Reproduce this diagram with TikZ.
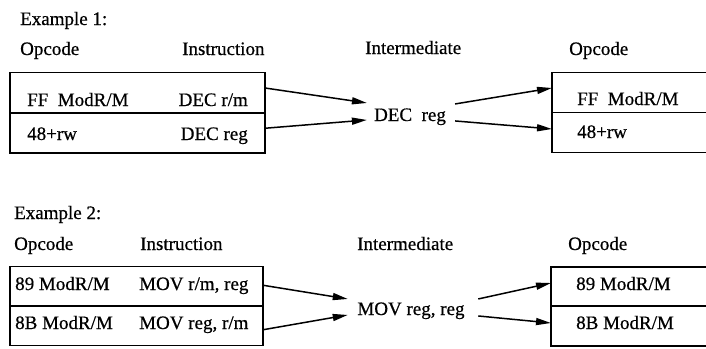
\documentclass[tikz,border=0pt]{standalone}
\usepackage{fontspec}
\setmainfont{Liberation Serif}[FakeBold=0.6]
\usetikzlibrary{arrows.meta}
\begin{document}
\begin{tikzpicture}[x=1pt,y=-1pt,
  lbl/.style={anchor=base west,inner sep=0pt,font=\fontsize{19}{22}\selectfont},
  lblr/.style={anchor=base east,inner sep=0pt,font=\fontsize{19}{22}\selectfont},
  midtxt/.style={anchor=base,inner sep=0pt,font=\fontsize{19}{22}\selectfont},
  cell/.style={draw,line width=1.5pt,inner sep=0pt,outer sep=0pt},
  link/.style={line width=1.5pt,-{Triangle[length=15pt,width=7pt]}}]
\useasboundingbox (0,0) rectangle (706,348);

% ---------- Example 1 ----------
\node[lbl] (ex1) at (20,25) {Example 1:};
\node[lbl] (op1) at (20,55) {Opcode};
\node[lbl] (ins1) at (182,55) {Instruction};
\node[lbl] (im1) at (365,54) {Intermediate};
\node[lbl] (op1r) at (569,55) {Opcode};

\node[cell,minimum width=255pt,minimum height=40.5pt] (l1a) at (137.5,92.5) {};
\node[cell,minimum width=255pt,minimum height=40pt] (l1b) at (137.5,132.75) {};
\node[lbl] (l1at) at (27,106) {FF\ \ ModR/M};
\node[lblr] (l1ai) at (248,106) {DEC r/m};
\node[lbl] (l1bt) at (27,140) {48+rw};
\node[lblr] (l1bi) at (248,140) {DEC reg};

\node[midtxt] (mid1) at (410,121) {DEC\ \ reg};

\node[cell,minimum width=160pt,minimum height=40pt] (r1a) at (632,92.5) {};
\node[cell,minimum width=160pt,minimum height=40pt] (r1b) at (632,132.5) {};
\node[lbl] (r1at) at (577,105) {FF\ \ ModR/M};
\node[lbl] (r1bt) at (577,138) {48+rw};

\draw[link] ([yshift=4.5pt]l1a.east) -- ([xshift=-7pt,yshift=13.8pt]mid1.west);
\draw[link] ([yshift=4.5pt]l1b.east) -- ([xshift=-7pt,yshift=-3.2pt]mid1.west);
\draw[link] ([xshift=9pt,yshift=12.8pt]mid1.east) -- ([yshift=4.5pt]r1a.west);
\draw[link] ([xshift=9pt,yshift=-4.2pt]mid1.east) -- ([yshift=3.5pt]r1b.west);

% ---------- Example 2 ----------
\node[lbl] (ex2) at (14,219) {Example 2:};
\node[lbl] (op2) at (14,250) {Opcode};
\node[lbl] (ins2) at (140,250) {Instruction};
\node[lbl] (im2) at (357,250) {Intermediate};
\node[lbl] (op2r) at (568,250) {Opcode};

\node[cell,minimum width=253pt,minimum height=39.5pt] (l2a) at (136.5,286.25) {};
\node[cell,minimum width=253pt,minimum height=39.5pt] (l2b) at (136.5,325.75) {};
\node[lbl] (l2at) at (15,290) {89 ModR/M};
\node[lbl] (l2ai) at (139,290) {MOV r/m, reg};
\node[lbl] (l2bt) at (15,329) {8B ModR/M};
\node[lbl] (l2bi) at (139,329) {MOV reg, r/m};

\node[midtxt] (mid2) at (411,315) {MOV reg, reg};

\node[cell,minimum width=161pt,minimum height=39pt] (r2a) at (631.5,286.5) {};
\node[cell,minimum width=161pt,minimum height=40pt] (r2b) at (631.5,326) {};
\node[lbl] (r2at) at (576,290) {89 ModR/M};
\node[lbl] (r2bt) at (576,329) {8B ModR/M};

\draw[link] ([yshift=1pt]l2a.east) -- ([xshift=-9.5pt,yshift=11.8pt]mid2.west);
\draw[link] ([yshift=-4pt]l2b.east) -- ([xshift=-9.5pt,yshift=-4.2pt]mid2.west);
\draw[link] ([xshift=13.5pt,yshift=11.8pt]mid2.east) -- ([yshift=3.5pt]r2a.west);
\draw[link] ([xshift=13.5pt,yshift=-5.2pt]mid2.east) -- ([yshift=3pt]r2b.west);
\end{tikzpicture}
\end{document}
